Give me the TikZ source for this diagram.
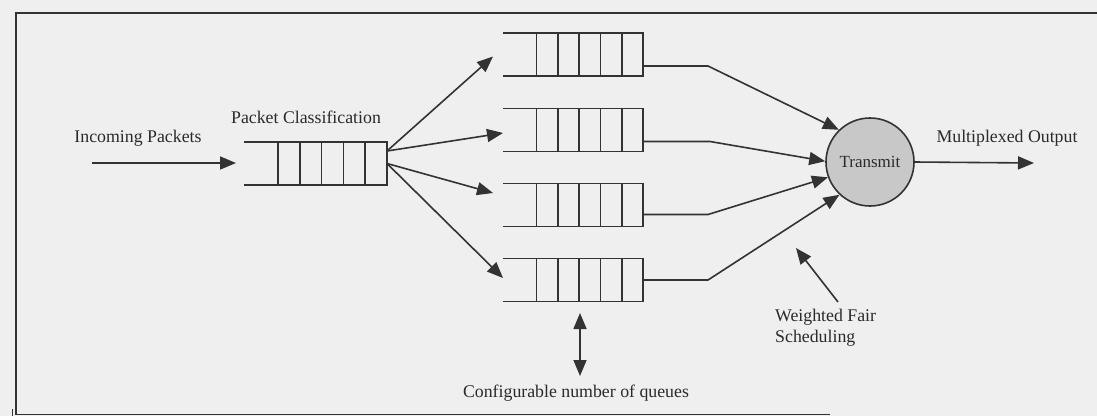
\documentclass[tikz,border=0pt]{standalone}
\usepackage{fontspec}
\setmainfont{Liberation Serif}
\usetikzlibrary{arrows.meta,calc}
\definecolor{bg}{HTML}{EFEFEF}
\definecolor{ink}{HTML}{333333}
\definecolor{txt}{HTML}{2A2A2A}
\definecolor{disc}{HTML}{C8C8C8}
\tikzset{
  qline/.style={draw=ink, line width=1.6pt},
  conn/.style={draw=ink, line width=1.6pt, -{Triangle[length=16pt,width=13pt]}},
  dconn/.style={draw=ink, line width=1.6pt, {Triangle[length=16pt,width=13pt]}-{Triangle[length=16pt,width=13pt]}},
  frame/.style={draw=ink, line width=1.7pt},
  lbl/.style={text=txt, inner sep=0pt, font=\fontsize{17.8}{21.4}\selectfont},
  qbox/.style={inner sep=0pt, outer sep=0pt, anchor=north west},
  tx/.style={circle, draw=ink, line width=1.6pt, fill=disc, minimum size=88pt, inner sep=0pt, text=txt, font=\fontsize{17}{20}\selectfont}
}
\newcommand\myqueue[5]{% name, xleft, ytop, width, cell
  \node[qbox, minimum width=#4pt, minimum height=43pt] (#1) at (#2,#3) {};
  \draw[qline] (#1.north west) -- (#1.north east) -- (#1.south east) -- (#1.south west);
  \foreach \k in {1,...,5}{
    \draw[qline] ($(#1.north east)+(-\k*#5,0)$) -- ($(#1.south east)+(-\k*#5,0)$);
  }
}
\begin{document}
\begin{tikzpicture}[x=1pt,y=-1pt]
\useasboundingbox[fill=bg] (0,0) rectangle (1097,416);
% frame
\draw[frame] (1097,13) -- (16,13) -- (16,414.5) -- (830,414.5);
\draw[draw=ink, line width=1pt] (12,409) -- (12,416);
% classifier queue
\myqueue{cls}{244}{142}{143}{21.8}
% four queues
\myqueue{qa}{503}{33}{140}{21.3}
\myqueue{qb}{503}{108.5}{140}{21.3}
\myqueue{qc}{503}{183.5}{140}{21.3}
\myqueue{qd}{503}{258.5}{140}{21.3}
% transmit
\node[tx] (t) at (870,162) {Transmit};
% labels
\node[lbl] (lin) at (138,138) {Incoming Packets};
\node[lbl] (lcls) at (306,117) {Packet Classification};
\node[lbl] (lout) at (1007,138) {Multiplexed Output};
\node[lbl] (lconf) at (576,393) {Configurable number of queues};
\node[lbl, align=left, anchor=north west] (lwfs) at (775,309) {Weighted Fair\\Scheduling};
% coordinates
\coordinate (inS) at (92,163);
\coordinate (inE) at (236,163);
\coordinate (outE) at (1034,163);
\coordinate (dA) at (580,313);
\coordinate (dB) at (580,376);
\coordinate (wS) at (838,302);
\coordinate (wE) at (796,248);
% incoming
\draw[conn] (inS) -- (inE);
% classifier to queues
\draw[conn] ($(cls.north east)+(0,9)$) -- ($(qa.west)+(-10,2)$);
\draw[conn] ($(cls.north east)+(0,9)$) -- ($(qb.west)+(0,3)$);
\draw[conn] ($(cls.east)+(0,0)$) -- ($(qc.west)+(-10,-12)$);
\draw[conn] ($(cls.east)+(0,0)$) -- ($(qd.west)+(0,-2)$);
% queues to transmit
\draw[conn] ($(qa.south east)+(0,-10)$) -- ++(65,0) -- (t.134);
\draw[conn] ($(qb.south east)+(0,-10)$) -- ++(67,0) -- (t.179);
\draw[conn] ($(qc.south east)+(0,-12)$) -- ++(65,0) -- (t.200);
\draw[conn] (qd.east) -- ++(65,0) -- (t.227);
% output
\draw[conn] (t.east) -- (outE);
% configurable
\draw[dconn] (dA) -- (dB);
% WFS
\draw[conn] (wS) -- (wE);
\end{tikzpicture}
\end{document}
